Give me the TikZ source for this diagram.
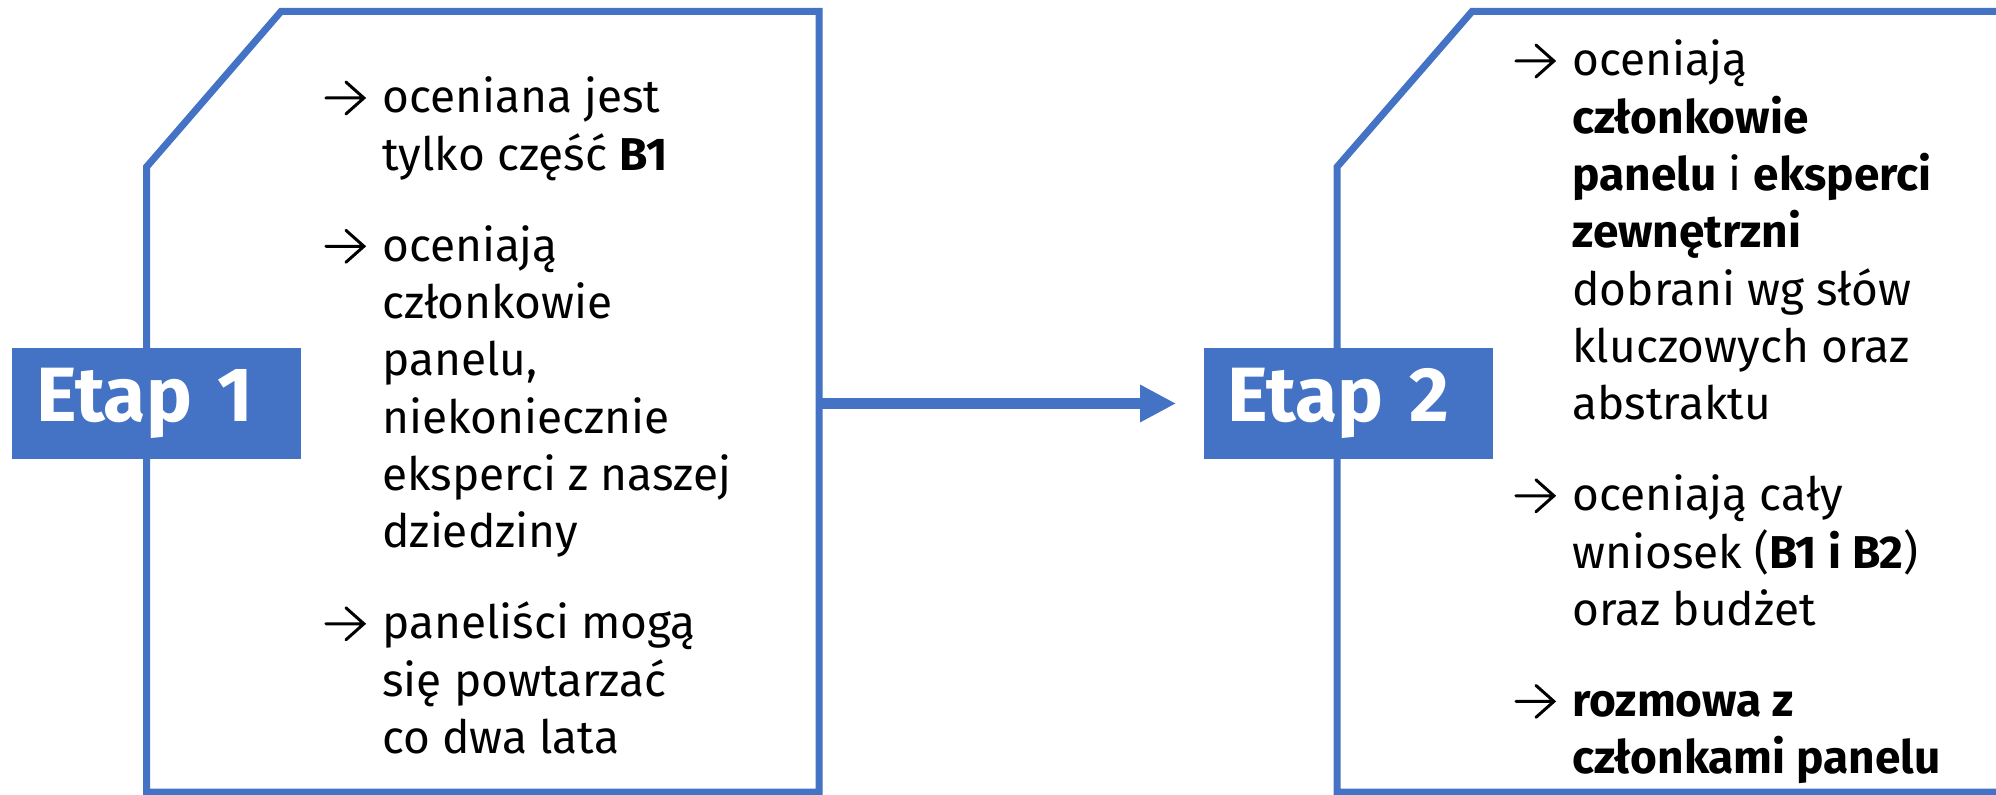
\documentclass[tikz,border=0pt]{standalone}
\usepackage{fontspec}
\setmainfont{Fira Sans}
\usepackage{tikz}
\usetikzlibrary{arrows.meta, positioning}
\definecolor{stageblue}{HTML}{4472C4}
\tikzstyle{frame} = [draw=stageblue, line width=3.5pt, line join=miter]
\tikzstyle{stage} = [rectangle, fill=stageblue, text=white, font=\fontsize{38.5}{42}\selectfont\bfseries, minimum width=144.5pt, minimum height=55.5pt, text width=120.5pt, inner xsep=12pt, align=left]
\tikzstyle{itemlist} = [anchor=base west, inner sep=0pt, font=\fontsize{23}{28.65}\selectfont]
\tikzstyle{arrow} = [line width=5.5pt, draw=stageblue, -{Triangle[length=18pt, width=17.5pt]}, shorten >=13.5pt]
\newcommand{\pointer}{\tikz[baseline=0pt] \draw[line width=1.5pt, line cap=round] (0pt,7.5pt) -- (19pt,7.5pt) (10pt,15.5pt) -- (19pt,7.5pt) -- (10pt,-0.5pt);}
\newcommand{\arrowline}[1]{\hangindent=29pt\hangafter=1\noindent\makebox[29pt][l]{\pointer}#1\par\parskip=16.85pt}
\newcommand{\itemblock}[1]{\vtop{\hsize=260pt\parindent=0pt\parskip=0pt #1}}

\begin{document}
\begin{tikzpicture}[x=0.5pt, y=-0.5pt]

		\useasboundingbox (0,0) rectangle (1996,795);

		\draw [frame] (281,11.5) -- (819,11.5) -- (819,792) -- (146.5,792) -- (146.5,167) -- cycle;
		\draw [frame] (1472,11.5) -- (2010,11.5) -- (2010,792) -- (1337,792) -- (1337,167) -- cycle;
		\coordinate (out1) at (819,403.5);

		\node (etap1) [stage] at (156.5,403.5) {Etap 1};
		\node (etap2) [stage] at (1348,403.5) {Etap 2};

		\node (list1) [itemlist] at (324,113) {\itemblock{%
			\arrowline{oceniana jest\\tylko część \textbf{B1}}
			\arrowline{oceniają\\członkowie\\panelu,\\niekoniecznie\\eksperci z naszej\\dziedziny}
			\arrowline{paneliści mogą\\się powtarzać\\co dwa lata}}};
		\node (list2) [itemlist] at (1514,76) {\itemblock{%
			\arrowline{oceniają\\\textbf{członkowie}\\\textbf{panelu} i \textbf{eksperci}\\\textbf{zewnętrzni}\\dobrani wg słów\\kluczowych oraz\\abstraktu}
			\arrowline{oceniają cały\\wniosek (\textbf{B1 i B2})\\oraz budżet}
			\arrowline{\textbf{rozmowa z\\członkami panelu}}}};

		\draw [arrow] (out1) -- (etap2);

\end{tikzpicture}
\end{document}
